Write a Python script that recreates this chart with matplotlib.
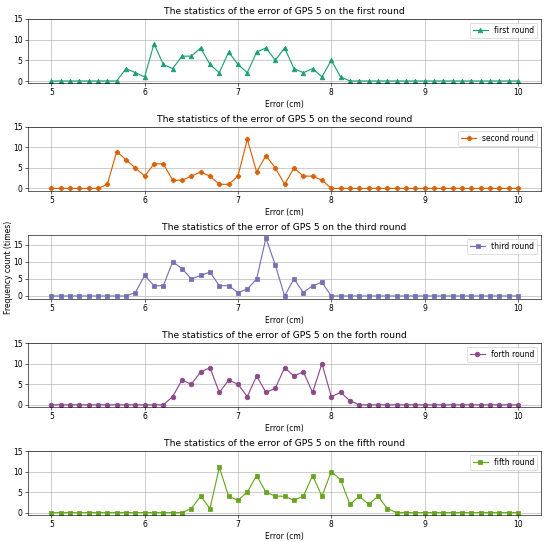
import numpy as np
import matplotlib
matplotlib.use('Agg')
import matplotlib.pyplot as plt

errors = np.round(np.arange(5.0, 10.01, 0.1), 1)

first_round = [0, 0, 0, 0, 0, 0, 0, 0, 3, 2, 1, 9, 4, 3, 6, 6, 8, 4, 2, 7, 4, 2, 7, 8, 5, 8,
               3, 2, 3, 1, 5, 1] + [0] * 19
second_round = [0, 0, 0, 0, 0, 0, 1, 9, 7, 5, 3, 6, 6, 2, 2, 3, 4, 3, 1, 1, 3, 12, 4, 8, 5, 1,
                5, 3, 3, 2] + [0] * 21
third_round = [0, 0, 0, 0, 0, 0, 0, 0, 0, 1, 6, 3, 3, 10, 8, 5, 6, 7, 3, 3, 1, 2, 5, 17, 9, 0,
               5, 1, 3, 4] + [0] * 21
forth_round = [0] * 13 + [2, 6, 5, 8, 9, 3, 6, 5, 2, 7, 3, 4, 9, 7, 8, 3, 10, 2, 3, 1] + [0] * 18
fifth_round = [0] * 15 + [1, 4, 1, 11, 4, 3, 5, 9, 5, 4, 4, 3, 4, 9, 4, 10, 8, 2, 4, 2, 4, 1] + [0] * 14

rounds = ['first', 'second', 'third', 'forth', 'fifth']
series = [first_round, second_round, third_round, forth_round, fifth_round]
colors = ['#1b9e77', '#d95f02', '#7570b3', '#8a4a88', '#66a61e']
markers = ['^', 'P', 's', 'o', 's']

# drawn at full size then saved at a low dpi, so 550x542 px
fig, axes = plt.subplots(5, 1, figsize=(10, 9.855), dpi=55)
for i, ax in enumerate(axes):
    ax.plot(errors, series[i], color=colors[i], marker=markers[i],
            label='{} round'.format(rounds[i]))
    ax.set_title('The statistics of the error of GPS 5 on the {} round'.format(rounds[i]))
    ax.set_xlabel('Error (cm)')
    ax.set_yticks([0, 5, 10, 15])
    ax.grid(True)
    ax.legend(loc='upper right')
    if i == 2:
        ax.set_ylabel('Frequency count (times)', labelpad=0)

fig.subplots_adjust(left=0.051, right=0.984, top=0.965, bottom=0.05, hspace=0.69)
plt.savefig('out.png', dpi=55)
